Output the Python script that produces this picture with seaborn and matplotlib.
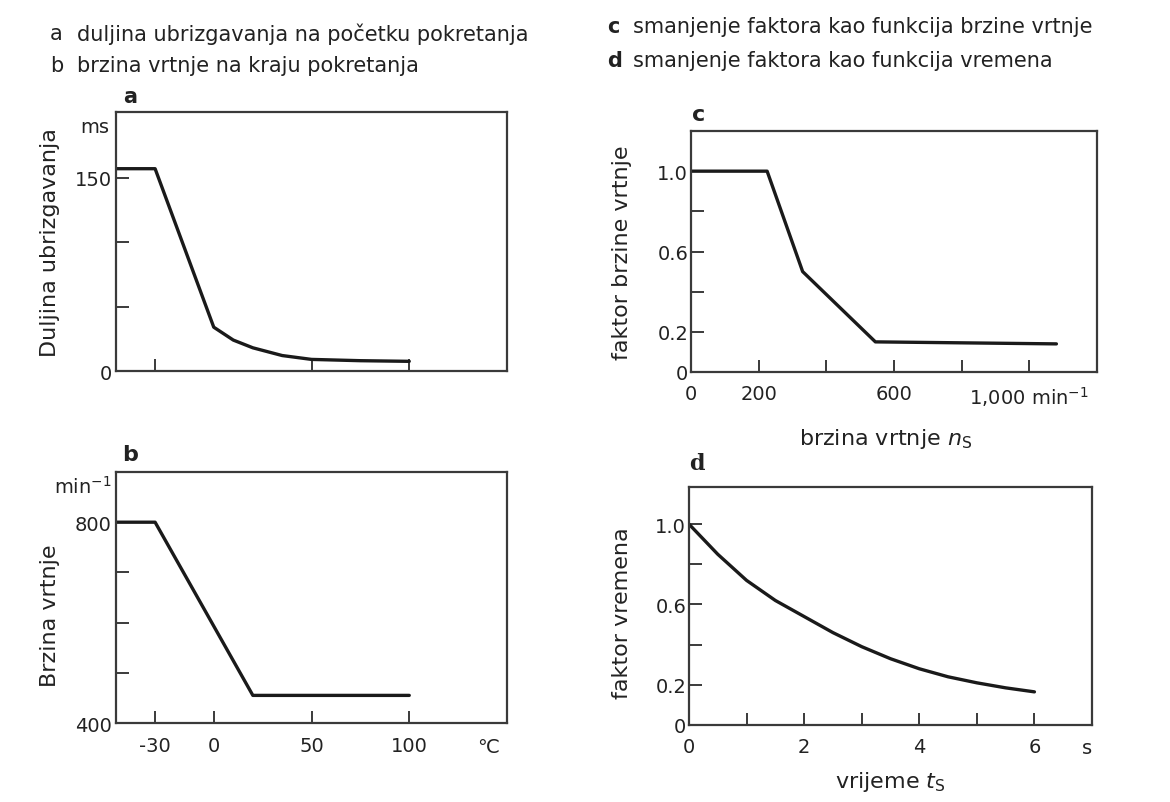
import matplotlib
matplotlib.use("Agg")
import matplotlib.pyplot as plt
import seaborn as sns
import pandas as pd

# ---------------- data ----------------
a_temp = [-50, -30, 0, 10, 20, 35, 50, 75, 100]
a_duration = [157, 157, 34, 24, 18, 12, 9, 8, 7.5]

b_temp = [-50, -30, 20, 100]
b_speed = [800, 800, 455, 455]

c_speed = [0, 225, 330, 545, 1080]
c_factor = [1.0, 1.0, 0.5, 0.15, 0.14]

d_time = [0, 0.5, 1, 1.5, 2, 2.5, 3, 3.5, 4, 4.5, 5, 5.5, 6]
d_factor = [1.0, 0.85, 0.72, 0.62, 0.54, 0.46, 0.39, 0.33, 0.28, 0.24, 0.21, 0.185, 0.165]

a_yticks = [0, 50, 100, 150]
a_yticklabels = ["0", "", "", "150"]
a_xticks = [-30, 50, 100]
ab_xticks = [-30, 0, 50, 100]
ab_xticklabels = ["-30", "0", "50", "100"]
b_yticks = [400, 500, 600, 700, 800]
b_yticklabels = ["400", "", "", "", "800"]
cd_yticks = [0, 0.2, 0.4, 0.6, 0.8, 1.0]
cd_yticklabels = ["0", "0.2", "", "0.6", "", "1.0"]
c_xticks = [0, 200, 400, 600, 800, 1000]
c_xticklabels = ["0", "200", "", "600", "", "1,000 min$^{-1}$"]
d_xticks = [0, 1, 2, 3, 4, 5, 6]
d_xticklabels = ["0", "", "2", "", "4", "", "6"]

headers_left = [("a", "duljina ubrizgavanja na početku pokretanja"),
                ("b", "brzina vrtnje na kraju pokretanja")]
headers_right = [("c", "smanjenje faktora kao funkcija brzine vrtnje"),
                 ("d", "smanjenje faktora kao funkcija vremena")]

# ---------------- style ----------------
sns.set_theme(style="white")
plt.rcParams['font.family'] = ['DejaVu Sans']

LINE = "#1a1a1a"
SPINE = "#3a3a3a"
TXT = "#222222"
LAB = 16
TICK = 14

W, H = 1170, 803
fig = plt.figure(figsize=(W / 100, H / 100), dpi=100)


def px_axes(l, t, r, b):
    return fig.add_axes([l / W, 1 - b / H, (r - l) / W, (b - t) / H])


def style(ax, xpad=9, ypad=3):
    for s in ax.spines.values():
        s.set_color(SPINE)
        s.set_linewidth(1.6)
    ax.tick_params(axis="both", direction="in", length=9, width=1.4,
                   color=SPINE, labelsize=TICK, labelcolor=TXT,
                   bottom=True, left=True, top=False, right=False)
    ax.tick_params(axis="x", pad=xpad)
    ax.tick_params(axis="y", pad=ypad)
    ax.set_facecolor("white")


ax_a = px_axes(116, 113, 507, 372)
ax_b = px_axes(116, 473, 507, 724)
ax_c = px_axes(691, 132, 1097, 373)
ax_d = px_axes(689, 488, 1092, 726)

# ---- panel a ----
sns.lineplot(x=a_temp, y=a_duration, ax=ax_a, color=LINE, lw=2.4, sort=False)
ax_a.set_xlim(-50, 150)
ax_a.set_ylim(0, 201)
ax_a.set_xticks(a_xticks)
ax_a.set_xticklabels([])
ax_a.set_yticks(a_yticks)
ax_a.set_yticklabels(a_yticklabels)
style(ax_a)
ax_a.set_ylabel("Duljina ubrizgavanja", fontsize=LAB, color=TXT)
ax_a.yaxis.set_label_coords(-0.143, 0.5)
ax_a.text(-0.055, 0.945, "ms", transform=ax_a.transAxes, ha="center", va="center",
          fontsize=TICK, color=TXT)
ax_a.text(0.035, 1.06, "a", transform=ax_a.transAxes, ha="center", va="center",
          fontsize=15, fontweight="bold", color=TXT)

# ---- panel b ----
sns.lineplot(x=b_temp, y=b_speed, ax=ax_b, color=LINE, lw=2.4, sort=False)
ax_b.set_xlim(-50, 150)
ax_b.set_ylim(400, 900)
ax_b.set_xticks(ab_xticks)
ax_b.set_xticklabels(ab_xticklabels)
ax_b.set_yticks(b_yticks)
ax_b.set_yticklabels(b_yticklabels)
style(ax_b)
ax_b.set_ylabel("Brzina vrtnje", fontsize=LAB, color=TXT)
ax_b.yaxis.set_label_coords(-0.143, 0.43)
ax_b.text(-0.085, 0.945, "min$^{-1}$", transform=ax_b.transAxes, ha="center",
          va="center", fontsize=TICK, color=TXT)
ax_b.text(0.951, -0.095, "\u2103", transform=ax_b.transAxes, ha="center", va="center",
          fontsize=TICK, color=TXT)
ax_b.text(0.035, 1.07, "b", transform=ax_b.transAxes, ha="center", va="center",
          fontsize=16, fontweight="bold", color=TXT)

# ---- panel c ----
sns.lineplot(x=c_speed, y=c_factor, ax=ax_c, color=LINE, lw=2.4, sort=False)
ax_c.set_xlim(0, 1200)
ax_c.set_ylim(0, 1.2)
ax_c.set_xticks(c_xticks)
ax_c.set_xticklabels(c_xticklabels)
ax_c.set_yticks(cd_yticks)
ax_c.set_yticklabels(cd_yticklabels)
style(ax_c, ypad=2)
ax_c.set_ylabel("faktor brzine vrtnje", fontsize=LAB, color=TXT)
ax_c.yaxis.set_label_coords(-0.145, 0.5)
ax_c.set_xlabel("brzina vrtnje $n_\\mathrm{S}$", fontsize=LAB, color=TXT)
ax_c.xaxis.set_label_coords(0.478, -0.225)
ax_c.text(0.02, 1.07, "c", transform=ax_c.transAxes, ha="center", va="center",
          fontsize=16, fontweight="bold", color=TXT)

# ---- panel d ----
sns.lineplot(x=d_time, y=d_factor, ax=ax_d, color=LINE, lw=2.4, sort=False)
ax_d.set_xlim(0, 7)
ax_d.set_ylim(0, 1.185)
ax_d.set_xticks(d_xticks)
ax_d.set_xticklabels(d_xticklabels)
ax_d.set_yticks(cd_yticks)
ax_d.set_yticklabels(cd_yticklabels)
style(ax_d, ypad=2)
ax_d.set_ylabel("faktor vremena", fontsize=LAB, color=TXT)
ax_d.yaxis.set_label_coords(-0.141, 0.475)
ax_d.set_xlabel("vrijeme $t_\\mathrm{S}$", fontsize=LAB, color=TXT)
ax_d.xaxis.set_label_coords(0.5, -0.185)
ax_d.text(0.988, -0.095, "s", transform=ax_d.transAxes, ha="center", va="center",
          fontsize=TICK, color=TXT)
ax_d.text(0.02, 1.1, "d", transform=ax_d.transAxes, ha="center", va="center",
          fontsize=16, fontweight="bold", family="DejaVu Serif", color=TXT)

# ---- headers ----
for i, (letter, txt) in enumerate(headers_left):
    y = 1 - (34 + i * 32) / H
    fig.text(50 / W, y, letter, ha="left", va="center", fontsize=15, color=TXT)
    fig.text(77 / W, y, txt, ha="left", va="center", fontsize=15, color=TXT)
for i, (letter, txt) in enumerate(headers_right):
    y = 1 - (27 + i * 34) / H
    fig.text(607 / W, y, letter, ha="left", va="center", fontsize=15,
             fontweight="bold", color=TXT)
    fig.text(633 / W, y, txt, ha="left", va="center", fontsize=15, color=TXT)

fig.savefig("out.png", dpi=100, facecolor="white")
